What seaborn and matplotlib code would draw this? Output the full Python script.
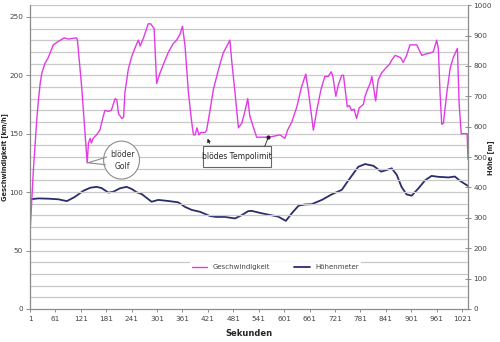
import matplotlib
matplotlib.use("Agg")
import matplotlib.pyplot as plt
import seaborn as sns
from matplotlib.patches import Ellipse, Rectangle

# ---- data ----
speed_t = [1, 9, 17, 21, 25, 29, 36, 44, 56, 68, 82, 91, 111, 113, 123, 131, 136, 139, 143, 146,
           150, 158, 166, 174, 178, 186, 193, 202, 206, 210, 218, 222, 225, 233, 241, 253, 257,
           261, 269, 280, 286, 294, 300, 308, 320, 328, 339, 347, 355, 361, 367, 375, 383, 387,
           391, 395, 400, 404, 414, 418, 426, 434, 446, 457, 473, 477, 485, 493, 501, 509, 515,
           520, 528, 536, 548, 564, 579, 591, 599, 603, 609, 619, 631, 642, 652, 658, 670, 678,
           688, 697, 705, 712, 716, 723, 729, 737, 741, 745, 750, 755, 760, 766, 772, 778, 788,
           792, 798, 804, 808, 812, 817, 823, 831, 843, 849, 855, 863, 870, 876, 882, 890, 898,
           906, 914, 918, 926, 934, 945, 953, 961, 965, 969, 973, 977, 985, 993, 1000, 1010,
           1014, 1019, 1028, 1033, 1035]
speed_v = [65, 119, 162, 179, 193, 202, 210, 215, 226, 229, 232, 231, 232, 230, 190, 150, 125, 142,
           146, 142, 146, 149, 153, 165, 170, 169, 170, 180, 179, 167, 163, 164, 185, 205, 216,
           227, 230, 225, 232, 244, 244, 240, 193, 202, 213, 220, 227, 230, 235, 242, 225, 185,
           159, 149, 149, 155, 149, 151, 151, 153, 170, 188, 205, 219, 230, 213, 185, 155, 159,
           170, 180, 165, 156, 147, 147, 147, 148, 149, 147, 146, 153, 160, 173, 190, 201, 187,
           153, 170, 188, 199, 199, 203, 199, 182, 192, 200, 200, 188, 173, 174, 170, 171, 163,
           172, 175, 182, 188, 193, 199, 190, 178, 196, 202, 207, 209, 213, 217, 216, 215, 211,
           217, 226, 226, 226, 223, 217, 218, 219, 220, 230, 223, 185, 158, 159, 185, 206, 215,
           223, 176, 150, 150, 150, 128]

alt_t = [1, 21, 45, 68, 88, 107, 127, 143, 158, 170, 186, 198, 213, 229, 241, 253, 265, 276, 288,
         304, 330, 351, 367, 383, 402, 426, 440, 461, 485, 501, 516, 524, 548, 587, 605, 619, 635,
         650, 666, 690, 713, 737, 753, 776, 792, 812, 830, 842, 855, 867, 878, 890, 902, 918, 934,
         949, 965, 989, 1004, 1016, 1035]
alt_h = [361, 364, 363, 361, 355, 369, 389, 399, 402, 398, 383, 386, 397, 402, 395, 384, 378, 366,
         353, 359, 355, 351, 336, 326, 320, 306, 303, 303, 298, 309, 322, 323, 315, 304, 290, 315,
         340, 344, 345, 359, 377, 392, 424, 468, 477, 471, 452, 457, 463, 441, 402, 377, 373, 397,
         424, 438, 435, 433, 436, 422, 405]

x_ticks = list(range(1, 1022, 60))
speed_label = "Geschwindigkeit"
alt_label = "Höhenmeter"

speed_color = "#E23BE6"
alt_color = "#2B2C6C"

sns.set_theme(style="white")
plt.rcParams['font.family'] = ['DejaVu Sans']

fig = plt.figure(figsize=(5.0, 3.42), dpi=100)
ax = fig.add_axes([0.06, 0.0965, 0.876, 0.8885])
ax2 = ax.twinx()

sns.lineplot(x=speed_t, y=speed_v, ax=ax, color=speed_color, lw=1.0, label=speed_label, legend=False)
sns.lineplot(x=alt_t, y=alt_h, ax=ax2, color=alt_color, lw=1.3, label=alt_label, legend=False)

ax.set_xlim(1, 1035)
ax.set_ylim(0, 260)
ax2.set_ylim(0, 1000)

# grid every 10 units on left axis
for g in range(10, 261, 10):
    ax.axhline(g, color="#C9C9C9", lw=0.9, zorder=0)

ax.set_yticks(range(0, 251, 50))
ax2.set_yticks(range(0, 1001, 100))
ax.set_xticks(x_ticks)
ax.set_xticklabels([str(t) for t in x_ticks])

for a in (ax, ax2):
    for s in a.spines.values():
        s.set_visible(False)
ax.spines['left'].set_visible(True)
ax.spines['bottom'].set_visible(True)
ax2.spines['right'].set_visible(True)
for s in (ax.spines['left'], ax.spines['bottom'], ax2.spines['right']):
    s.set_color("#8C8C8C")
    s.set_linewidth(0.9)

ax.tick_params(axis='y', labelsize=5.2, length=3, width=0.7, color="#8C8C8C", left=True, direction='out', pad=2, labelcolor="#444444")
ax.tick_params(axis='x', labelsize=5.2, length=2, width=0.7, color="#8C8C8C", bottom=True, direction='out', pad=3, labelcolor="#444444")
ax2.tick_params(axis='y', labelsize=5.2, length=4, width=0.7, color="#8C8C8C", right=True, direction='inout', pad=2, labelcolor="#444444")

ax.set_xlabel("Sekunden", fontsize=6, fontweight='bold', labelpad=5)
ax.set_ylabel("Geschwindigkeit [km/h]", fontsize=4.8, fontweight='bold', labelpad=1)
fig.text(0.982, 0.54, "Höhe [m]", fontsize=4.8, fontweight='bold', rotation=90,
         ha='center', va='center')

ax.set_zorder(ax2.get_zorder() + 1)
ax.patch.set_visible(False)

# legend
h1, l1 = ax.get_legend_handles_labels()
h2, l2 = ax2.get_legend_handles_labels()
leg = ax.legend(h1 + h2, l1 + l2, loc='center', bbox_to_anchor=(0.56, 0.138), ncol=2,
                fontsize=5, frameon=True, facecolor='white', edgecolor='none', framealpha=1,
                handlelength=2.2, columnspacing=3.5, borderpad=0.3)
for t in leg.get_texts():
    t.set_color("#444444")

# callout "blöder Golf"
ell = Ellipse((0.209, 0.49), 0.082, 0.125, transform=ax.transAxes, facecolor='white',
              edgecolor='#8C8C8C', lw=0.8, zorder=5)
ax.add_patch(ell)
ax.plot([0.175, 0.132, 0.172], [0.50, 0.481, 0.475], transform=ax.transAxes, color='#8C8C8C', lw=0.8, zorder=6)
ax.text(0.212, 0.49, "blöder\nGolf", transform=ax.transAxes, fontsize=5.5, ha='center', va='center',
        color='#333333', zorder=7, linespacing=1.4)

# callout "blödes Tempolimit"
rect = Rectangle((0.395, 0.468), 0.155, 0.068, transform=ax.transAxes, facecolor='white',
                 edgecolor='#666666', lw=0.8, zorder=5)
ax.add_patch(rect)
ax.text(0.4725, 0.502, "blödes Tempolimit", transform=ax.transAxes, fontsize=5.5, ha='center', va='center',
        color='#222222', zorder=7)
ax.annotate("", xy=(418, 148), xytext=(0.412, 0.536), textcoords='axes fraction', xycoords='data',
            arrowprops=dict(arrowstyle='-|>', color='#222222', lw=0.6, mutation_scale=5), zorder=6)
ax.plot([0.536, 0.544], [0.536, 0.565], transform=ax.transAxes, color='#222222', lw=0.6, zorder=6)
ax.plot([564], [147], marker='o', ms=2, color='#222222', zorder=6)

fig.savefig("out.png", dpi=100, facecolor='white')
